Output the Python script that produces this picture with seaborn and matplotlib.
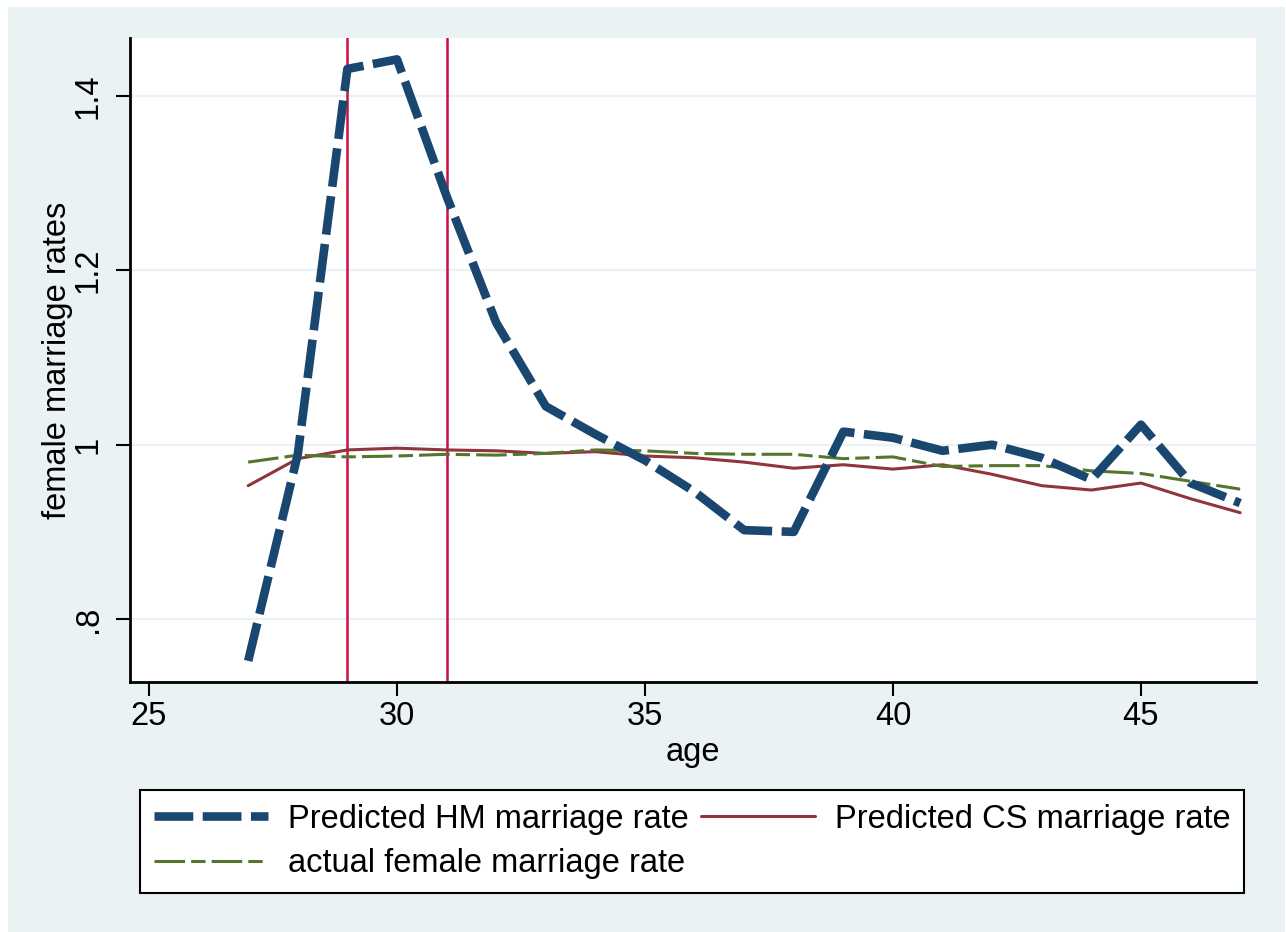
import matplotlib
matplotlib.use("Agg")
import matplotlib.pyplot as plt
import seaborn as sns
import pandas as pd
from matplotlib.patches import Rectangle

# ---- data ----
age = list(range(27, 48))
hm_rate = [0.752, 0.989, 1.431, 1.442, 1.285, 1.140, 1.044, 1.012, 0.982, 0.946, 0.902,
           0.900, 1.015, 1.008, 0.993, 1.000, 0.985, 0.960, 1.023, 0.956, 0.933]
cs_rate = [0.953, 0.984, 0.994, 0.996, 0.994, 0.993, 0.990, 0.992, 0.987, 0.985, 0.980,
           0.973, 0.977, 0.972, 0.977, 0.966, 0.953, 0.948, 0.956, 0.938, 0.922]
actual_rate = [0.980, 0.988, 0.986, 0.987, 0.989, 0.988, 0.990, 0.994, 0.993, 0.990, 0.989,
               0.989, 0.984, 0.986, 0.975, 0.976, 0.976, 0.970, 0.967, 0.958, 0.949]
ref_ages = [29, 31]
x_ticks = [25, 30, 35, 40, 45]
x_ticklabels = ["25", "30", "35", "40", "45"]
y_ticks = [0.8, 1.0, 1.2, 1.4]
y_ticklabels = [".8", "1", "1.2", "1.4"]
series_labels = ["Predicted HM marriage rate", "Predicted CS marriage rate",
                 "actual female marriage rate"]

df = pd.DataFrame({"age": age, "hm": hm_rate, "cs": cs_rate, "actual": actual_rate})

sns.set_theme(style="white")
plt.rcParams["font.family"] = ["Liberation Sans", "DejaVu Sans"]
plt.rcParams["text.color"] = "black"

FS = 23.5
W, H = 1286, 932
fig = plt.figure(figsize=(W / 100, H / 100), dpi=100, facecolor="white")
fig.patches.append(Rectangle((8 / W, 0), (W - 9) / W, (H - 7) / H,
                             transform=fig.transFigure, facecolor="#EAF2F3",
                             edgecolor="none", zorder=-10))

ax = fig.add_axes([130 / W, (H - 682) / H, (1256 - 130) / W, (682 - 38) / H])
ax.set_facecolor("white")

navy = "#1A476F"
maroon = "#90353B"
green = "#55752F"
crimson = "#CC1042"

sns.lineplot(data=df, x="age", y="hm", ax=ax, color=navy, lw=6.2,
             linestyle=(0, (4.5, 1.1)), label=series_labels[0], zorder=4)
sns.lineplot(data=df, x="age", y="cs", ax=ax, color=maroon, lw=2.2,
             label=series_labels[1], zorder=3)
sns.lineplot(data=df, x="age", y="actual", ax=ax, color=green, lw=2.2,
             linestyle=(0, (10, 2, 4.7, 2)), label=series_labels[2], zorder=3)

for xv in ref_ages:
    ax.axvline(xv, color=crimson, lw=1.8, zorder=2)

ax.set_xlim(24.617, 47.319)
ax.set_ylim(0.7278, 1.4665)

ax.set_xticks(x_ticks)
ax.set_xticklabels(x_ticklabels)
ax.set_yticks(y_ticks)
ax.set_yticklabels(y_ticklabels, rotation=90, va="center")

ax.grid(axis="y", color="#EAF2F3", lw=1.6, zorder=0)
ax.grid(axis="x", visible=False)
ax.set_axisbelow(True)

for s in ["top", "right"]:
    ax.spines[s].set_visible(False)
for s in ["left", "bottom"]:
    ax.spines[s].set_color("black")
    ax.spines[s].set_linewidth(2.0)

ax.tick_params(axis="both", which="major", direction="out", length=10, width=1.5,
               color="black", labelsize=FS, labelcolor="black", left=True, bottom=True)
ax.tick_params(axis="y", pad=9)
ax.tick_params(axis="x", pad=4)

ax.set_xlabel("age", fontsize=FS, color="black", va="center")
ax.xaxis.set_label_coords(0.5, (682 - 752) / 644)
ax.set_ylabel("female marriage rates", fontsize=FS, color="black", va="center")
ax.yaxis.set_label_coords((58 - 130) / 1126, 0.5)

handles, labels = ax.get_legend_handles_labels()
ax.get_legend().remove()
order = [0, 2, 1]  # column-major fill -> row 1: HM, CS; row 2: actual
leg = fig.legend([handles[i] for i in order], [labels[i] for i in order], loc="lower left",
                 bbox_to_anchor=(140 / W, (H - 893) / H, (1244 - 140) / W, (893 - 787) / H),
                 mode="expand", ncol=2, fontsize=FS, frameon=True, fancybox=False,
                 framealpha=1, facecolor="white", edgecolor="black", labelcolor="black",
                 handlelength=3.5, handletextpad=0.6, columnspacing=0.9,
                 labelspacing=0.42, borderpad=0.42, borderaxespad=0)
leg.get_frame().set_linewidth(1.5)

fig.savefig("out.png", dpi=100, facecolor="white")
